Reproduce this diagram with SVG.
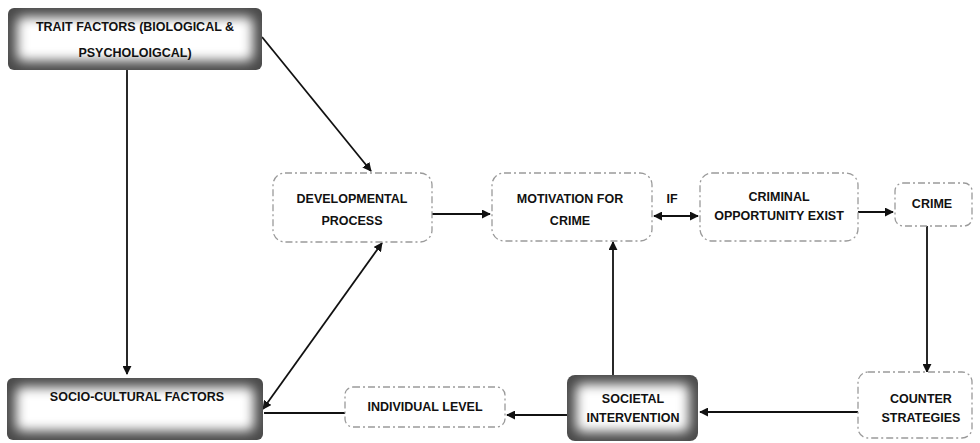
<svg xmlns="http://www.w3.org/2000/svg" width="980" height="443" viewBox="0 0 980 443">
<defs>
<style>
.t{font-family:"Liberation Sans",Arial,sans-serif;font-weight:bold;font-size:12.5px;fill:#111;text-anchor:middle}
.dash{fill:#fff;stroke:#9a9a9a;stroke-width:1.3;stroke-dasharray:7 3 2 3}
.sh{fill:#4a4a4a}
.glow{fill:#fff;filter:url(#blur)}
.c{stroke:#111;stroke-width:1.8;fill:none}
</style>
<filter id="blur" x="-20%" y="-50%" width="140%" height="200%"><feGaussianBlur stdDeviation="6"/></filter>
<marker id="ah" viewBox="0 0 10 10" refX="9" refY="5" markerWidth="5" markerHeight="5" orient="auto-start-reverse"><path d="M0,0 L10,5 L0,10 z" fill="#111"/></marker>
</defs>
<rect width="980" height="443" fill="#fff"/>
<g id="connectors">
<line class="c" x1="127" y1="70" x2="127" y2="374" marker-end="url(#ah)"/>
<line class="c" x1="262" y1="37" x2="371" y2="171" marker-end="url(#ah)"/>
<line class="c" x1="263" y1="409" x2="382" y2="243" marker-start="url(#ah)" marker-end="url(#ah)"/>
<line class="c" x1="432" y1="214" x2="490" y2="214" marker-end="url(#ah)"/>
<line class="c" x1="654" y1="216" x2="698" y2="216" marker-start="url(#ah)" marker-end="url(#ah)"/>
<line class="c" x1="858" y1="212" x2="893" y2="212" marker-end="url(#ah)"/>
<line class="c" x1="927" y1="226" x2="927" y2="372" marker-end="url(#ah)"/>
<line class="c" x1="858" y1="412" x2="700" y2="412" marker-end="url(#ah)"/>
<line class="c" x1="567" y1="415" x2="507" y2="415" marker-end="url(#ah)"/>
<line class="c" x1="345" y1="413" x2="264" y2="413"/>
<line class="c" x1="613" y1="375" x2="613" y2="242" marker-end="url(#ah)"/>
<text class="t" x="672" y="203">IF</text>
</g>
<g id="trait">
<rect class="sh" x="8" y="8" width="254" height="62" rx="6"/>
<rect class="glow" x="17" y="17" width="236" height="44" rx="6"/>
<text class="t" x="135" y="31">TRAIT FACTORS (BIOLOGICAL &amp;</text>
<text class="t" x="135" y="57">PSYCHOLOIGCAL)</text>
</g>
<g id="developmental">
<rect class="dash" x="273" y="173" width="159" height="69" rx="12"/>
<text class="t" x="352" y="203">DEVELOPMENTAL</text>
<text class="t" x="352" y="225">PROCESS</text>
</g>
<g id="motivation">
<rect class="dash" x="492" y="173" width="160" height="68" rx="12"/>
<text class="t" x="570" y="203">MOTIVATION FOR</text>
<text class="t" x="570" y="225">CRIME</text>
</g>
<g id="opportunity">
<rect class="dash" x="700" y="173" width="158" height="68" rx="12"/>
<text class="t" x="779" y="201">CRIMINAL</text>
<text class="t" x="779" y="220">OPPORTUNITY EXIST</text>
</g>
<g id="crime">
<rect class="dash" x="895" y="183" width="77" height="43" rx="8"/>
<text class="t" x="932" y="208">CRIME</text>
</g>
<g id="sociocultural">
<rect class="sh" x="7" y="378" width="256" height="62" rx="6"/>
<rect class="glow" x="16" y="387" width="238" height="44" rx="6"/>
<text class="t" x="137" y="401">SOCIO-CULTURAL FACTORS</text>
</g>
<g id="individual">
<rect class="dash" x="345" y="387" width="160" height="40" rx="8"/>
<text class="t" x="425" y="411">INDIVIDUAL LEVEL</text>
</g>
<g id="societal">
<rect class="sh" x="567" y="375" width="131" height="66" rx="8"/>
<rect class="glow" x="576" y="384" width="113" height="48" rx="6"/>
<text class="t" x="633" y="403">SOCIETAL</text>
<text class="t" x="633" y="422">INTERVENTION</text>
</g>
<g id="counter">
<rect class="dash" x="858" y="372" width="114" height="66" rx="10"/>
<text class="t" x="921" y="403">COUNTER</text>
<text class="t" x="921" y="422">STRATEGIES</text>
</g>
</svg>
